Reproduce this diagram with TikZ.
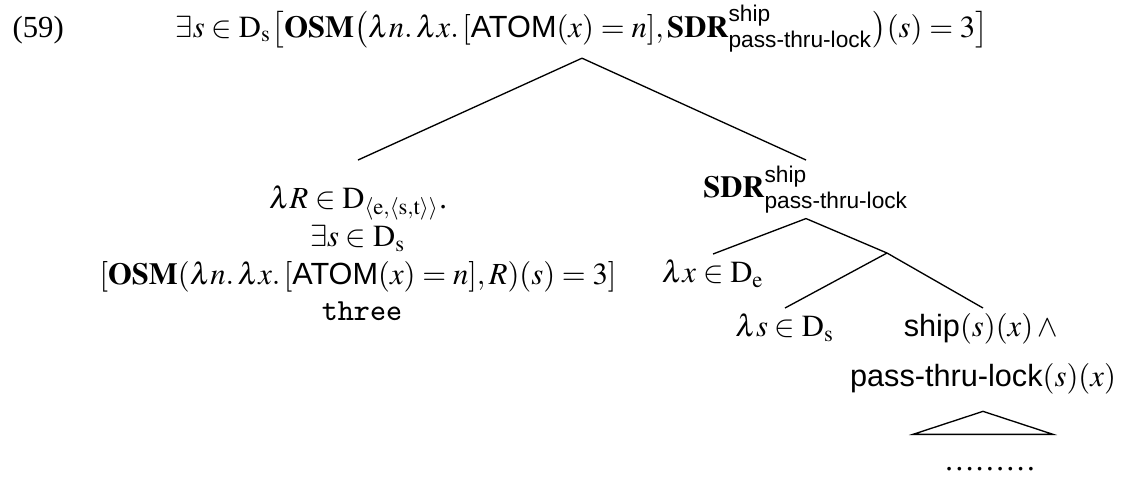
\documentclass[tikz,border=0pt]{standalone}
\usepackage{amsmath}
\usepackage{mathptmx}
\usepackage[no-math]{fontspec}
\setmainfont{Liberation Serif}
\setsansfont{Liberation Sans}
\usetikzlibrary{positioning}

\newcommand{\Dom}[1]{\mathrm{D}_{\mathrm{#1}}}
\newcommand{\sdrterm}{\mathbf{SDR}^{\textsf{ship}}_{\textsf{pass-thru-lock}}}
\newcommand{\atomterm}{\lambda n.\,\lambda x.\,[\textsf{ATOM}(x)=n]}

\begin{document}
\begin{tikzpicture}[x=0.3pt, y=-0.3pt,
  lbl/.style={inner sep=1.5pt, font=\fontsize{9.2}{11.4}\selectfont, align=center},
  branch/.style={line width=0.4pt},
]
  \useasboundingbox (0,0) rectangle (1125,478);

  \node[lbl, anchor=base west] (num) at (7,37) {(59)};
  \node[lbl, inner sep=0pt, anchor=base] (root) at (582,37)
    {$\exists s\in\Dom{s}\bigl[\mathbf{OSM}\bigl(\atomterm,\sdrterm\bigr)(s)=3\bigr]$};

  \node[lbl, anchor=north] (lft) at (358,180)
    {$\lambda R\in\mathrm{D}_{\langle\mathrm{e},\langle\mathrm{s},\mathrm{t}\rangle\rangle}$.\\
     $\exists s\in\Dom{s}$\\
     $[\mathbf{OSM}(\atomterm,R)(s)=3]$};
  \node[lbl, anchor=base] (three) at (362,320) {\texttt{three}};

  \node[lbl, anchor=north] (sdr) at (806,160) {$\sdrterm$};
  \node[lbl, anchor=north] (lamx) at (713,254) {$\lambda x\in\Dom{e}$};
  \coordinate (mid) at (887,253);
  \node[lbl, anchor=north] (lams) at (785,308) {$\lambda s\in\Dom{s}$};
  \node[lbl, anchor=north] (shp) at (983,308)
    {\textsf{ship}$(s)(x)\wedge{}$\\[3.5pt] \textsf{pass-thru-lock}$(s)(x)$};
  \node[lbl, anchor=base] (dots) at (990,470) {\ldots\ldots\ldots};

  \draw[branch] ([yshift=-1.5pt]root.south) -- ([yshift=6pt]lft.north);
  \draw[branch] ([yshift=-1.5pt]root.south) -- (sdr.north);
  \draw[branch] (sdr.south) -- (lamx.north);
  \draw[branch] (sdr.south) -- (mid);
  \draw[branch] (mid) -- (lams.north);
  \draw[branch] (mid) -- (shp.north);
  \draw[branch] ([yshift=-3.5pt]shp.south) -- ++(-70,23) -- ++(140,0) -- cycle;
\end{tikzpicture}
\end{document}
